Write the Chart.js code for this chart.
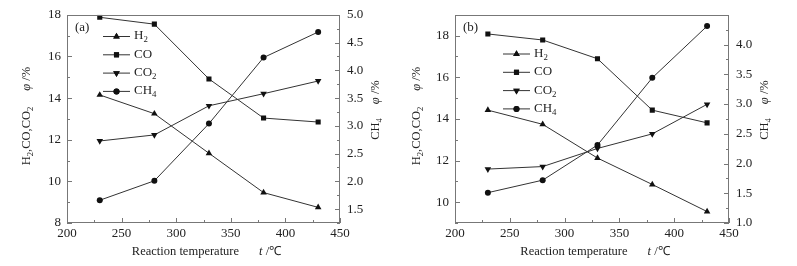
<!DOCTYPE html>
<html><head><meta charset="utf-8">
<script src="https://cdn.jsdelivr.net/npm/chart.js@4/dist/chart.umd.min.js"></script>
<style>
html,body{margin:0;padding:0;background:#fff;}
#wrap{position:relative;width:797px;height:266px;overflow:hidden;background:#fff;}
#ca{position:absolute;left:0;top:0;}
#cb{position:absolute;left:400px;top:0;}
</style></head><body>
<div id="wrap"><canvas id="ca" width="400" height="266"></canvas><canvas id="cb" width="397" height="266"></canvas></div>
<script>
// ---- data ----
const temperatures = [230, 280, 330, 380, 430];
const seriesNames = ['H2', 'CO', 'CO2', 'CH4'];
const a_H2  = [14.15, 13.25, 11.35, 9.46, 8.75];
const a_CO  = [17.88, 17.55, 14.92, 13.04, 12.85];
const a_CO2 = [11.94, 12.23, 13.63, 14.21, 14.82];
const a_CH4 = [1.66, 2.01, 3.04, 4.23, 4.69];
const b_H2  = [14.42, 13.74, 12.12, 10.85, 9.55];
const b_CO  = [18.08, 17.79, 16.89, 14.42, 13.81];
const b_CO2 = [11.59, 11.71, 12.58, 13.28, 14.70];
const b_CH4 = [1.51, 1.72, 2.31, 3.44, 4.31];
const xTickLabels = [200, 250, 300, 350, 400, 450];
const a_leftTickLabels = [8, 10, 12, 14, 16, 18];
const a_rightTickLabels = [1.5, 2.0, 2.5, 3.0, 3.5, 4.0, 4.5, 5.0];
const b_leftTickLabels = [10, 12, 14, 16, 18];
const b_rightTickLabels = [1.0, 1.5, 2.0, 2.5, 3.0, 3.5, 4.0];

const FONT = '"Liberation Serif", "Times New Roman", serif';
const INK = '#222';
const LINE = '#333';
const FRAME = '#777';

function inList(v, list) { return list.some(t => Math.abs(t - v) < 1e-6); }

function fontFor(s, size) {
  return (s === 'i' ? 'italic ' : '') + (s === 's' ? size * 0.68 : size) + 'px ' + FONT;
}
function drawRich(ctx, parts, x, y, size) {
  let cx = x;
  ctx.textBaseline = 'middle';
  ctx.textAlign = 'left';
  parts.forEach(([t, s]) => {
    if (s === 'g') { cx += t; return; }
    ctx.font = fontFor(s, size);
    ctx.fillText(t, cx, s === 's' ? y + size * 0.32 : y);
    cx += ctx.measureText(t).width;
  });
}
function richWidth(ctx, parts, size) {
  let w = 0;
  parts.forEach(([t, s]) => {
    if (s === 'g') { w += t; return; }
    ctx.font = fontFor(s, size);
    w += ctx.measureText(t).width;
  });
  return w;
}

const legendParts = {
  H2: [['H', 'n'], ['2', 's']],
  CO: [['CO', 'n']],
  CO2: [['CO', 'n'], ['2', 's']],
  CH4: [['CH', 'n'], ['4', 's']]
};

const decorPlugin = {
  id: 'decor',
  afterDraw(chart) {
    const o = chart.options.plugins.decor;
    const ctx = chart.ctx;
    const ca = chart.chartArea;
    ctx.save();
    // frame
    ctx.strokeStyle = FRAME;
    ctx.lineWidth = 1;
    ctx.strokeRect(Math.round(ca.left) + 0.5, Math.round(ca.top) + 0.5,
      Math.round(ca.right - ca.left) - 1, Math.round(ca.bottom - ca.top) - 1);
    // inward ticks
    ctx.beginPath();
    const xs = chart.scales.x;
    xs.ticks.forEach(t => {
      const px = Math.round(xs.getPixelForValue(t.value)) + 0.5;
      const len = inList(t.value, o.xLab) ? 5 : 3;
      ctx.moveTo(px, ca.bottom); ctx.lineTo(px, ca.bottom - len);
    });
    const yl = chart.scales.y;
    yl.ticks.forEach(t => {
      const py = Math.round(yl.getPixelForValue(t.value)) + 0.5;
      const len = inList(t.value, o.yLab) ? 5 : 3;
      ctx.moveTo(ca.left, py); ctx.lineTo(ca.left + len, py);
    });
    const yr = chart.scales.y1;
    yr.ticks.forEach(t => {
      const py = Math.round(yr.getPixelForValue(t.value)) + 0.5;
      const len = inList(t.value, o.y1Lab) ? 5 : 3;
      ctx.moveTo(ca.right, py); ctx.lineTo(ca.right - len, py);
    });
    ctx.stroke();

    ctx.fillStyle = INK;
    // panel tag
    ctx.font = '13px ' + FONT;
    ctx.textBaseline = 'middle';
    ctx.textAlign = 'left';
    ctx.fillText(o.tag, ca.left + 8, ca.top + 13);

    // legend
    chart.data.datasets.forEach((ds, i) => {
      const ly = o.legY + i * 18.3;
      const lx = o.legX;
      ctx.strokeStyle = LINE; ctx.lineWidth = 1;
      ctx.beginPath(); ctx.moveTo(lx, ly + 0.5); ctx.lineTo(lx + 27, ly + 0.5); ctx.stroke();
      ctx.fillStyle = '#111';
      Chart.helpers.drawPoint(ctx, {
        pointStyle: ds.pointStyle, radius: ds.pointRadius,
        rotation: ds.pointRotation || 0, borderWidth: 0
      }, lx + 13.5, ly + 0.5);
      ctx.fill();
      ctx.fillStyle = INK;
      drawRich(ctx, legendParts[seriesNames[i]], lx + 31, ly, 13);
    });

    // axis titles
    const size = 12.5;
    const xParts = [['Reaction temperature', 'n'], [20, 'g'], ['t', 'i'], [' /\u2103', 'n']];
    const xw = richWidth(ctx, xParts, size);
    drawRich(ctx, xParts, (ca.left + ca.right) / 2 - xw / 2 + 3, 252, size);
    const lParts = [['H', 'n'], ['2', 's'], [',CO,CO', 'n'], ['2', 's'], [16, 'g'], ['\u03c6', 'i'], [' /%', 'n']];
    const lw = richWidth(ctx, lParts, size);
    ctx.save();
    ctx.translate(o.lTitleX, 116);
    ctx.rotate(-Math.PI / 2);
    drawRich(ctx, lParts, -lw / 2, 0, size);
    ctx.restore();
    const rParts = [['CH', 'n'], ['4', 's'], [14, 'g'], ['\u03c6', 'i'], [' /%', 'n']];
    const rw = richWidth(ctx, rParts, size);
    ctx.save();
    ctx.translate(o.rTitleX, 110);
    ctx.rotate(-Math.PI / 2);
    drawRich(ctx, rParts, -rw / 2, 0, size);
    ctx.restore();
    ctx.restore();
  }
};

function makeDatasets(h2, co, co2, ch4) {
  const base = { borderColor: LINE, borderWidth: 1, pointBackgroundColor: '#111', pointBorderColor: '#111', pointBorderWidth: 0, tension: 0, fill: false };
  return [
    Object.assign({}, base, { label: 'H2', data: h2, yAxisID: 'y', pointStyle: 'triangle', pointRadius: 3.8, pointRotation: 0 }),
    Object.assign({}, base, { label: 'CO', data: co, yAxisID: 'y', pointStyle: 'rect', pointRadius: 3.6, pointRotation: 0 }),
    Object.assign({}, base, { label: 'CO2', data: co2, yAxisID: 'y', pointStyle: 'triangle', pointRadius: 3.8, pointRotation: 180 }),
    Object.assign({}, base, { label: 'CH4', data: ch4, yAxisID: 'y1', pointStyle: 'circle', pointRadius: 3.0, pointRotation: 0 })
  ];
}

function makeChart(id, cfg) {
  const tickFont = { family: FONT, size: 13 };
  const toPts = arr => arr.map((v, i) => ({ x: temperatures[i], y: v }));
  return new Chart(document.getElementById(id), {
    type: 'line',
    data: { datasets: makeDatasets(toPts(cfg.h2), toPts(cfg.co), toPts(cfg.co2), toPts(cfg.ch4)) },
    options: {
      responsive: false, animation: false, devicePixelRatio: 1,
      layout: { padding: { top: 14, left: 0, right: 0, bottom: 0 } },
      plugins: {
        legend: { display: false }, tooltip: { enabled: false },
        decor: cfg.decor
      },
      scales: {
        x: {
          type: 'linear', min: 200, max: 450,
          ticks: { stepSize: 25, font: tickFont, color: INK, padding: 3, maxRotation: 0, autoSkip: false,
            callback: v => inList(v, xTickLabels) ? String(v) : '' },
          grid: { display: false, drawTicks: false }, border: { display: false },
          afterFit: s => { s.height = 43; }
        },
        y: {
          position: 'left', min: cfg.yMin, max: cfg.yMax,
          ticks: { stepSize: 1, font: tickFont, color: INK, padding: 6, autoSkip: false,
            callback: v => inList(v, cfg.yLab) ? String(v) : '' },
          grid: { display: false, drawTicks: false }, border: { display: false },
          afterFit: s => { s.width = cfg.leftW; }
        },
        y1: {
          position: 'right', min: cfg.y1Min, max: cfg.y1Max,
          ticks: { stepSize: 0.25, font: tickFont, color: INK, padding: 7, autoSkip: false,
            callback: v => inList(v, cfg.y1Lab) ? Number(v).toFixed(1) : '' },
          grid: { display: false, drawTicks: false }, border: { display: false },
          afterFit: s => { s.width = cfg.rightW; }
        }
      }
    },
    plugins: [decorPlugin]
  });
}

makeChart('ca', {
  h2: a_H2, co: a_CO, co2: a_CO2, ch4: a_CH4,
  yMin: 8, yMax: 18, y1Min: 1.25, y1Max: 5.0,
  yLab: a_leftTickLabels, y1Lab: a_rightTickLabels,
  leftW: 67, rightW: 60,
  decor: { tag: '(a)', xLab: xTickLabels, yLab: a_leftTickLabels, y1Lab: a_rightTickLabels,
    legX: 103, legY: 36, lTitleX: 27, rTitleX: 376 }
});
makeChart('cb', {
  h2: b_H2, co: b_CO, co2: b_CO2, ch4: b_CH4,
  yMin: 9, yMax: 19, y1Min: 1.0, y1Max: 4.5,
  yLab: b_leftTickLabels, y1Lab: b_rightTickLabels,
  leftW: 55, rightW: 68,
  decor: { tag: '(b)', xLab: xTickLabels, yLab: b_leftTickLabels, y1Lab: b_rightTickLabels,
    legX: 103, legY: 53.5, lTitleX: 17, rTitleX: 365 }
});
</script>
</body></html>
